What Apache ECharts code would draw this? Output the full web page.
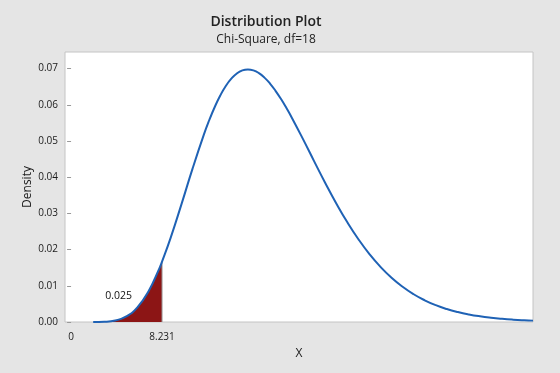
<!DOCTYPE html>
<html>
<head>
<meta charset="utf-8">
<script src="https://cdn.jsdelivr.net/npm/echarts@6/dist/echarts.min.js"></script>
<style>
html,body{margin:0;padding:0;background:#e5e5e5;}
#c{width:560px;height:373px;}
</style>
</head>
<body>
<div id="c"></div>
<script>
// Data
const titleText = 'Distribution Plot';
const subtitleText = 'Chi-Square, df=18';
const xValues = [2,3,4,5,6,7,8,8.231,9,10,11,12,12.5,13,13.5,14,14.5,15,15.5,16,16.5,17,17.5,18,18.5,19,19.5,20,21,22,23,24,25,26,27,28,29,30,31,32,33,34,35,36,37,38,39,40,41,41.8];
const density = [0.0000046,0.0000709,0.000429,0.001552,0.00405,0.00843,0.01489,0.01666,0.02317,0.03264,0.04244,0.05162,0.05574,0.05941,0.06257,0.06520,0.06722,0.06867,0.06952,0.06979,0.06953,0.06876,0.06752,0.06589,0.06388,0.06159,0.05904,0.05631,0.05045,0.04439,0.03843,0.03276,0.02754,0.02287,0.01876,0.01522,0.01222,0.00973,0.00767,0.00600,0.00465,0.00358,0.00274,0.00208,0.00157,0.00118,0.00088,0.00065,0.00048,0.00038];
const criticalValue = 8.231;
const tailProbability = '0.025';
const tailLabelAt = [4.3, 0.0071];
const xTickValues = [0, 8.231];
const yTickValues = [0,0.01,0.02,0.03,0.04,0.05,0.06,0.07];

const curve = xValues.map((x,i)=>[x, density[i]]);
const tail = curve.filter(p => p[0] <= criticalValue);
const critY = density[xValues.indexOf(criticalValue)];

const chart = echarts.init(document.getElementById('c'), null, {renderer:'canvas'});
const FONT = '"Open Sans", "Noto Sans", sans-serif';
chart.setOption({
  backgroundColor: '#e5e5e5',
  animation: false,
  title: [
    {text: titleText, left: 261, top: 10, textAlign: 'center',
     textStyle: {fontFamily: FONT, fontSize: 14, fontWeight: 600, color: '#222'}},
    {text: subtitleText, left: 261, top: 29, textAlign: 'center',
     textStyle: {fontFamily: FONT, fontSize: 12, fontWeight: 'normal', color: '#222'}}
  ],
  grid: {left: 65, top: 52, right: 27, bottom: 51, show: true, backgroundColor: '#ffffff', borderColor: '#c4c4c4', borderWidth: 1},
  xAxis: {
    type: 'value', min: -0.55, max: 41.8,
    name: 'X', nameLocation: 'middle', nameGap: 26,
    nameTextStyle: {fontFamily: FONT, fontSize: 12, color: '#1a1a1a'},
    axisLine: {show: false}, axisTick: {show: false}, splitLine: {show: false},
    axisLabel: {customValues: xTickValues, formatter: v => String(v), margin: 10,
      fontFamily: FONT, fontSize: 10, color: '#1a1a1a'}
  },
  yAxis: {
    type: 'value', min: 0, max: 0.0746, interval: 0.01,
    name: 'Density', nameLocation: 'middle', nameGap: 31, nameRotate: 90, nameMoveOverlap: false,
    nameTextStyle: {fontFamily: FONT, fontSize: 12, color: '#1a1a1a'},
    axisLine: {show: false},
    axisTick: {show: true, length: 4, customValues: yTickValues, lineStyle: {color: '#999'}},
    splitLine: {show: false},
    axisLabel: {customValues: yTickValues, formatter: v => v.toFixed(2), margin: 7,
      fontFamily: FONT, fontSize: 10, color: '#1a1a1a'}
  },
  series: [
    {type: 'line', data: tail, smooth: true, symbol: 'none', z: 2,
     lineStyle: {width: 0}, areaStyle: {color: '#8c1515', opacity: 1, origin: 'start'}},
    {type: 'line', data: [[criticalValue, 0], [criticalValue, critY]], symbol: 'none', z: 3,
     lineStyle: {color: '#9a9a9a', width: 1}},
    {type: 'line', data: curve, smooth: true, symbol: 'none', z: 4,
     lineStyle: {color: '#1f62b5', width: 2}},
    {type: 'scatter', data: [tailLabelAt], symbolSize: 2, itemStyle: {color: 'rgba(0,0,0,0)'}, silent: true, z: 5,
     label: {show: true, position: 'inside', formatter: tailProbability,
       fontFamily: FONT, fontSize: 10.5, color: '#111', opacity: 1}}
  ]
});
</script>
</body>
</html>
